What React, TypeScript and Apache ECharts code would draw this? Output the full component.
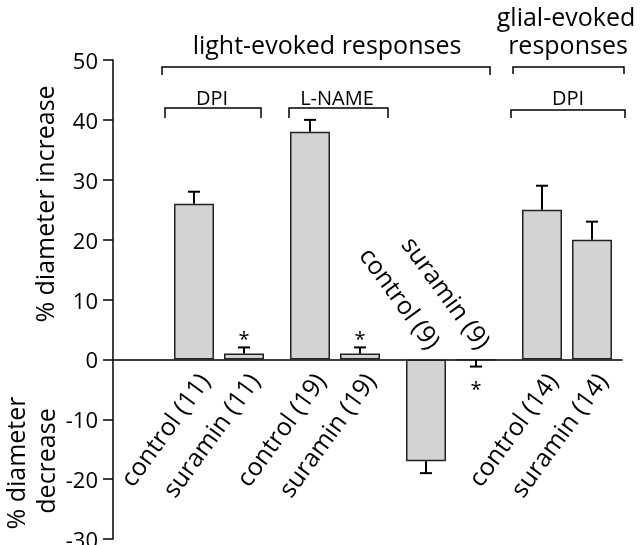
import React, { useEffect, useRef } from "react";
import * as echarts from "echarts";

// ---- data ----
const groups = ["DPI", "L-NAME", "suramin", "glial DPI"];
const controlLabels = ["control (11)", "control (19)", "control (9)", "control (14)"];
const suraminLabels = ["suramin (11)", "suramin (19)", "suramin (9)", "suramin (14)"];
const controlValues = [26, 38, -17, 25];
const controlErrors = [2, 2, 2, 4];
const suraminValues = [1, 1, -0.1, 20];
const suraminErrors = [1, 1, 1.1, 3];
const suraminStars = [true, true, true, false];
const yTicks = { min: -30, max: 50, interval: 10 };

const FONT = "'Open Sans', sans-serif";
const BAR_W = 40;
const BAR_GAP = 0.25;
const LABEL_ROT = (54 * Math.PI) / 180;

type Entry = { group: number; side: number; value: number; err: number; star: boolean; label: string };
const entries: Entry[] = [];
groups.forEach((_, g) => {
  entries.push({ group: g, side: -1, value: controlValues[g], err: controlErrors[g], star: false, label: controlLabels[g] });
  entries.push({ group: g, side: 1, value: suraminValues[g], err: suraminErrors[g], star: suraminStars[g], label: suraminLabels[g] });
});

function txt(text: string, x: number, y: number, fontSize: number, rotation = 0) {
  return {
    type: "text",
    x,
    y,
    rotation,
    style: {
      text,
      fill: "#000",
      fontSize,
      fontFamily: FONT,
      align: "center",
      verticalAlign: "middle",
      textAlign: "center",
      textVerticalAlign: "middle",
    },
  };
}
function bracket(x1: number, x2: number, y: number, drop: number) {
  return {
    type: "polyline",
    shape: { points: [[x1, y + drop], [x1, y], [x2, y], [x2, y + drop]] },
    style: { stroke: "#000", lineWidth: 1.5, fill: null },
  };
}

export default function App() {
  const ref = useRef<HTMLDivElement>(null);
  useEffect(() => {
    const chart = echarts.init(ref.current!, null, { renderer: "svg" });
    const off = (BAR_W * (1 + BAR_GAP)) / 2;
    chart.setOption({
      animation: false,
      grid: [
        { left: 113, right: 18, top: 60, bottom: 6, containLabel: false, outerBoundsMode: "none" },
        { left: 161, right: 15, top: 60, bottom: 6, containLabel: false, outerBoundsMode: "none" },
      ],
      xAxis: [
        {
          gridIndex: 0,
          type: "value",
          min: 0,
          max: 1,
          axisLine: { show: true, onZero: true, lineStyle: { color: "#000", width: 1.5 } },
          axisTick: { show: false },
          axisLabel: { show: false },
          splitLine: { show: false },
        },
        { gridIndex: 1, type: "category", data: groups, show: false },
      ],
      yAxis: [
        {
          gridIndex: 0,
          type: "value",
          min: yTicks.min,
          max: yTicks.max,
          interval: yTicks.interval,
          axisLine: { show: true, lineStyle: { color: "#000", width: 1.5 } },
          axisTick: { show: true, length: 10, lineStyle: { color: "#000", width: 1.5 } },
          axisLabel: { color: "#000", fontSize: 22, fontFamily: FONT, margin: 15 },
          splitLine: { show: false },
        },
        { gridIndex: 1, type: "value", min: yTicks.min, max: yTicks.max, show: false },
      ],
      series: [
        {
          type: "bar",
          xAxisIndex: 1,
          yAxisIndex: 1,
          data: controlValues,
          barWidth: BAR_W,
          barGap: "25%",
          itemStyle: { color: "#d3d3d3", borderColor: "#222", borderWidth: 1.5 },
        },
        {
          type: "bar",
          xAxisIndex: 1,
          yAxisIndex: 1,
          data: suraminValues,
          barWidth: BAR_W,
          barGap: "25%",
          itemStyle: { color: "#d3d3d3", borderColor: "#222", borderWidth: 1.5 },
        },
        {
          type: "custom",
          xAxisIndex: 1,
          yAxisIndex: 1,
          data: entries.map((e) => [e.group, e.value]),
          encode: { x: 0, y: 1 },
          z: 5,
          renderItem: (params: any, api: any) => {
            const e = entries[params.dataIndex];
            const sign = e.value >= 0 ? 1 : -1;
            const zero = api.coord([e.group, 0]);
            const cx = zero[0] + e.side * off;
            const yv = api.coord([e.group, e.value])[1];
            const ye = api.coord([e.group, e.value + sign * e.err])[1];
            const lineStyle = { stroke: "#000", lineWidth: 2 };
            const children: any[] = [
              { type: "line", shape: { x1: cx, y1: yv, x2: cx, y2: ye }, style: lineStyle },
              { type: "line", shape: { x1: cx - 6, y1: ye, x2: cx + 6, y2: ye }, style: lineStyle },
            ];
            if (e.star) {
              children.push(txt("*", cx, ye + (sign > 0 ? -9 : 22), 20));
            }
            const lbl: any = {
              type: "text",
              x: sign > 0 ? cx + 9 : cx + 10,
              y: sign > 0 ? zero[1] + 16 : zero[1] - 14,
              rotation: sign > 0 ? LABEL_ROT : -LABEL_ROT,
              style: {
                text: e.label,
                fill: "#000",
                fontSize: 25,
                fontFamily: FONT,
                align: "right",
                verticalAlign: "middle",
                textAlign: "right",
                textVerticalAlign: "middle",
              },
            };
            children.push(lbl);
            return { type: "group", children };
          },
        },
      ],
      graphic: [
        txt("light-evoked responses", 327, 44, 25),
        bracket(162, 490, 67, 8),
        txt("DPI", 212, 97, 20),
        bracket(165, 261, 108, 10),
        txt("L-NAME", 337, 97, 20),
        bracket(289, 388, 108, 10),
        txt("glial-evoked", 566, 16, 25),
        txt("responses", 568, 44, 25),
        bracket(513, 624, 67, 7),
        txt("DPI", 568, 97, 20),
        bracket(511, 625, 110, 8),
        txt("% diameter increase", 44, 204, 25, Math.PI / 2),
        txt("% diameter", 15, 463, 25, Math.PI / 2),
        txt("decrease", 45, 461, 25, Math.PI / 2),
      ],
    });
    return () => chart.dispose();
  }, []);
  return <div ref={ref} style={{ position: "fixed", left: 0, top: 0, width: 640, height: 545 }} />;
}
